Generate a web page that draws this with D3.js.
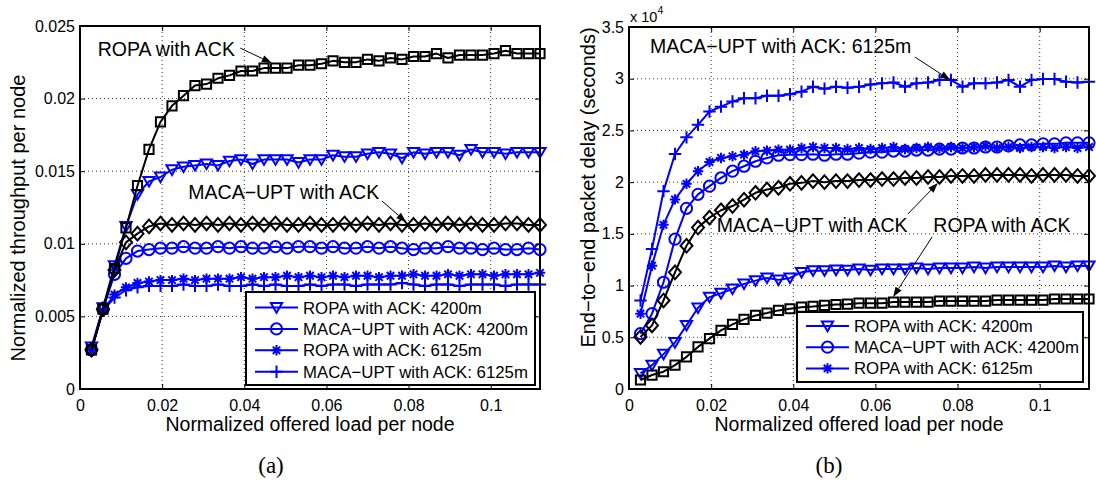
<!DOCTYPE html>
<html>
<head>
<meta charset="utf-8">
<script src="https://cdn.jsdelivr.net/npm/d3@7"></script>
<style>
  body { margin: 0; background: #fff; }
  svg text { font-family: "Liberation Sans", Arial, Helvetica, sans-serif; fill: #000; }
  svg text.caption { font-family: "Liberation Serif", "Times New Roman", serif; }
</style>
</head>
<body>
<svg id="fig" width="1096" height="481"></svg>
<script>
// Normalized offered load per node (x values shared by every curve)
const offeredLoad = [0.0028, 0.0056, 0.0084, 0.0112, 0.014, 0.0168, 0.0196, 0.0224, 0.0252, 0.028,
  0.0308, 0.0336, 0.0364, 0.0392, 0.042, 0.0448, 0.0476, 0.0504, 0.0532, 0.056,
  0.0588, 0.0616, 0.0644, 0.0672, 0.07, 0.0728, 0.0756, 0.0784, 0.0812, 0.084,
  0.0868, 0.0896, 0.0924, 0.0952, 0.098, 0.1008, 0.1036, 0.1064, 0.1092, 0.112];

const loadTicks = [0, 0.02, 0.04, 0.06, 0.08, 0.1];
const throughputTicks = [0, 0.005, 0.01, 0.015, 0.02, 0.025];
const delayTicks = [0, 0.5, 1, 1.5, 2, 2.5, 3, 3.5];

// (a) normalized throughput per node
const thrRopaAck = [0.0027, 0.0055, 0.0083, 0.0111, 0.0140, 0.0165, 0.0184, 0.0195, 0.0202, 0.0209,
  0.0210, 0.0214, 0.0216, 0.0219, 0.0219, 0.0221, 0.0221, 0.0221, 0.0223, 0.0223,
  0.0224, 0.0226, 0.0225, 0.0225, 0.0227, 0.0226, 0.0228, 0.0227, 0.0229, 0.0229,
  0.0231, 0.0228, 0.0230, 0.0230, 0.0230, 0.0231, 0.0233, 0.0231, 0.0231, 0.0231];
const thrMacaAck = [0.0027, 0.0055, 0.0082, 0.0101, 0.0107, 0.0112, 0.0114, 0.0113, 0.0114, 0.0113,
  0.0114, 0.0113, 0.0114, 0.0113, 0.0114, 0.0113, 0.0114, 0.0113, 0.0113, 0.0114,
  0.0113, 0.0113, 0.0114, 0.0113, 0.0114, 0.0113, 0.0114, 0.0113, 0.0113, 0.0114,
  0.0113, 0.0114, 0.0113, 0.0114, 0.0113, 0.0113, 0.0114, 0.0114, 0.0113, 0.0113];
const thrRopa4200 = [0.0029, 0.0056, 0.0085, 0.0112, 0.0134, 0.0143, 0.0146, 0.0151, 0.0153, 0.0154,
  0.0155, 0.0154, 0.0157, 0.0158, 0.0155, 0.0158, 0.0158, 0.0158, 0.0156, 0.0158,
  0.0158, 0.0161, 0.0160, 0.0160, 0.0162, 0.0163, 0.0162, 0.0159, 0.0163, 0.0162,
  0.0163, 0.0163, 0.0161, 0.0165, 0.0163, 0.0163, 0.0162, 0.0163, 0.0163, 0.0163];
const thrMaca4200 = [0.0027, 0.0055, 0.0079, 0.0090, 0.0095, 0.0096, 0.0097, 0.0097, 0.0098, 0.0097,
  0.0097, 0.0098, 0.0097, 0.0098, 0.0097, 0.0097, 0.0098, 0.0097, 0.0098, 0.0098,
  0.0097, 0.0098, 0.0097, 0.0097, 0.0098, 0.0097, 0.0098, 0.0097, 0.0096, 0.0097,
  0.0097, 0.0098, 0.0097, 0.0097, 0.0096, 0.0097, 0.0096, 0.0096, 0.0097, 0.0096];
const thrRopa6125 = [0.0027, 0.0054, 0.0065, 0.0070, 0.0073, 0.0074, 0.0075, 0.0075, 0.0076, 0.0075,
  0.0076, 0.0076, 0.0076, 0.0077, 0.0076, 0.0077, 0.0077, 0.0078, 0.0077, 0.0078,
  0.0077, 0.0078, 0.0077, 0.0078, 0.0078, 0.0077, 0.0078, 0.0078, 0.0079, 0.0078,
  0.0078, 0.0079, 0.0078, 0.0079, 0.0079, 0.0078, 0.0079, 0.0079, 0.0079, 0.0080];
const thrMaca6125 = [0.0027, 0.0054, 0.0063, 0.0068, 0.0070, 0.0071, 0.0071, 0.0071, 0.0072, 0.0071,
  0.0071, 0.0072, 0.0071, 0.0071, 0.0072, 0.0071, 0.0072, 0.0071, 0.0071, 0.0072,
  0.0071, 0.0072, 0.0072, 0.0071, 0.0072, 0.0072, 0.0072, 0.0073, 0.0072, 0.0071,
  0.0072, 0.0072, 0.0071, 0.0072, 0.0072, 0.0072, 0.0071, 0.0072, 0.0072, 0.0072];

// (b) end-to-end packet delay, in units of 10^4 seconds
const delRopaAck = [0.087, 0.135, 0.167, 0.231, 0.311, 0.407, 0.487, 0.567, 0.625, 0.673,
  0.711, 0.734, 0.760, 0.776, 0.791, 0.798, 0.808, 0.817, 0.82, 0.83,
  0.83, 0.83, 0.84, 0.84, 0.84, 0.84, 0.85, 0.85, 0.85, 0.85,
  0.85, 0.86, 0.86, 0.86, 0.86, 0.86, 0.87, 0.87, 0.87, 0.87];
const delMacaAck = [0.503, 0.615, 0.856, 1.128, 1.385, 1.561, 1.657, 1.728, 1.769, 1.83,
  1.897, 1.929, 1.945, 1.984, 1.993, 2.01, 2.00, 2.01, 2.01, 2.02,
  2.02, 2.03, 2.03, 2.04, 2.04, 2.05, 2.05, 2.06, 2.06, 2.06,
  2.07, 2.07, 2.07, 2.07, 2.06, 2.07, 2.07, 2.07, 2.06, 2.06];
const delRopa4200 = [0.151, 0.231, 0.337, 0.45, 0.615, 0.785, 0.888, 0.926, 0.968, 1.016,
  1.048, 1.074, 1.055, 1.074, 1.128, 1.144, 1.144, 1.151, 1.15, 1.16,
  1.15, 1.16, 1.16, 1.16, 1.17, 1.16, 1.17, 1.17, 1.17, 1.18,
  1.17, 1.18, 1.18, 1.18, 1.18, 1.18, 1.19, 1.18, 1.19, 1.19];
const delMaca4200 = [0.535, 0.728, 1.032, 1.449, 1.747, 1.882, 1.961, 2.041, 2.106, 2.154,
  2.202, 2.234, 2.26, 2.266, 2.266, 2.27, 2.26, 2.27, 2.27, 2.28,
  2.29, 2.29, 2.30, 2.30, 2.31, 2.31, 2.32, 2.32, 2.33, 2.33,
  2.34, 2.34, 2.35, 2.36, 2.36, 2.37, 2.37, 2.38, 2.38, 2.38];
const delRopa6125 = [0.728, 1.192, 1.587, 1.833, 1.984, 2.106, 2.195, 2.234, 2.25, 2.266,
  2.298, 2.305, 2.314, 2.314, 2.33, 2.34, 2.33, 2.33, 2.32, 2.33,
  2.32, 2.33, 2.34, 2.32, 2.33, 2.34, 2.33, 2.34, 2.33, 2.34,
  2.35, 2.33, 2.34, 2.33, 2.34, 2.34, 2.33, 2.34, 2.33, 2.34];
const delMaca6125 = [0.856, 1.353, 1.913, 2.272, 2.433, 2.554, 2.683, 2.73, 2.779, 2.811,
  2.811, 2.836, 2.836, 2.85, 2.875, 2.923, 2.904, 2.923, 2.913, 2.923,
  2.945, 2.955, 2.964, 2.923, 2.955, 2.964, 2.987, 2.987, 2.923, 2.955,
  2.955, 2.964, 2.987, 2.923, 2.987, 2.997, 2.997, 2.971, 2.964, 2.971];

const BLUE = "#0000ff";
const BLACK = "#000000";

// Marker outlines, centred on the data point
const markerPaths = {
  square:   "M-4.6,-4.6H4.6V4.6H-4.6Z",
  triangle: "M-5.6,-4.4L5.6,-4.4L0,5.2Z",
  circle:   "M5.6,0A5.6,5.6 0 1,1 -5.6,0A5.6,5.6 0 1,1 5.6,0Z",
  diamond:  "M0,-6.8L6,0L0,6.8L-6,0Z",
  asterisk: "M0,-5.2V5.2M-5.2,0H5.2M-3.7,-3.7L3.7,3.7M-3.7,3.7L3.7,-3.7",
  plus:     "M0,-6.2V6.2M-6.2,0H6.2"
};

const svg = d3.select("#fig");

function drawPanel(o) {
  const g = svg.append("g");
  const x = d3.scaleLinear().domain([0, 0.112]).range([o.left, o.right]);
  const y = d3.scaleLinear().domain([0, o.yTicks[o.yTicks.length - 1]]).range([o.bottom, o.top]);

  // dotted grid
  g.append("g").selectAll("line").data(loadTicks.filter(t => t > 0)).join("line")
    .attr("x1", d => x(d)).attr("x2", d => x(d))
    .attr("y1", o.bottom).attr("y2", o.top)
    .attr("stroke", "#333").attr("stroke-width", 1).attr("stroke-dasharray", "1,3");
  g.append("g").selectAll("line").data(o.yTicks.filter(t => t > 0)).join("line")
    .attr("x1", o.left).attr("x2", o.right)
    .attr("y1", d => y(d)).attr("y2", d => y(d))
    .attr("stroke", "#333").attr("stroke-width", 1).attr("stroke-dasharray", "1,3");

  // curves and markers
  const line = d3.line().x(d => x(d[0])).y(d => y(d[1]));
  o.series.forEach(s => {
    const pts = offeredLoad.map((v, i) => [v, s.values[i]]);
    const sg = g.append("g");
    sg.append("path").attr("d", line(pts))
      .attr("fill", "none").attr("stroke", s.color).attr("stroke-width", 2)
      .attr("stroke-linejoin", "round");
    sg.selectAll("path.mk").data(pts).join("path").attr("class", "mk")
      .attr("transform", d => `translate(${x(d[0])},${y(d[1])})`)
      .attr("d", markerPaths[s.marker])
      .attr("fill", "none").attr("stroke", s.color).attr("stroke-width", 2);
  });

  // axes with inward ticks on all four sides
  const fontAttr = sel => sel.attr("font-size", 16).attr("font-family", null);
  g.append("g").attr("transform", `translate(0,${o.bottom})`)
    .call(d3.axisBottom(x).tickValues(loadTicks).tickFormat(d3.format("~g"))
      .tickSizeInner(-5).tickSizeOuter(0).tickPadding(11))
    .call(a => a.select(".domain").remove()).call(fontAttr);
  g.append("g").attr("transform", `translate(0,${o.top})`)
    .call(d3.axisTop(x).tickValues(loadTicks).tickFormat("").tickSizeInner(-5).tickSizeOuter(0))
    .call(a => a.select(".domain").remove());
  g.append("g").attr("transform", `translate(${o.left},0)`)
    .call(d3.axisLeft(y).tickValues(o.yTicks).tickFormat(d3.format("~g"))
      .tickSizeInner(-5).tickSizeOuter(0).tickPadding(5))
    .call(a => a.select(".domain").remove()).call(fontAttr);
  g.append("g").attr("transform", `translate(${o.right},0)`)
    .call(d3.axisRight(y).tickValues(o.yTicks).tickFormat("").tickSizeInner(-5).tickSizeOuter(0))
    .call(a => a.select(".domain").remove());

  // axes box
  g.append("rect").attr("x", o.left).attr("y", o.top)
    .attr("width", o.right - o.left).attr("height", o.bottom - o.top)
    .attr("fill", "none").attr("stroke", "#000").attr("stroke-width", 2);

  // legend
  const lg = g.append("g");
  lg.append("rect").attr("x", o.legend.x0).attr("y", o.legend.y0)
    .attr("width", o.legend.x1 - o.legend.x0).attr("height", o.legend.y1 - o.legend.y0)
    .attr("fill", "#fff").attr("stroke", "#000").attr("stroke-width", 2);
  o.legend.items.forEach((s, i) => {
    const cy = o.legend.firstRow + i * o.legend.rowStep;
    const lx = o.legend.x0 + 9, rx = lx + 43;
    lg.append("line").attr("x1", lx).attr("x2", rx).attr("y1", cy).attr("y2", cy)
      .attr("stroke", s.color).attr("stroke-width", 2);
    lg.append("path").attr("d", markerPaths[s.marker])
      .attr("transform", `translate(${(lx + rx) / 2},${cy})`)
      .attr("fill", "none").attr("stroke", s.color).attr("stroke-width", 2);
    lg.append("text").attr("x", rx + 5).attr("y", cy).attr("dy", "0.36em")
      .attr("font-size", 16.8).text(s.name);
  });

  // annotations with arrows
  o.notes.forEach(n => {
    g.append("text").attr("x", x(n.tx)).attr("y", y(n.ty))
      .attr("font-size", 19.5).text(n.text);
    const x1 = x(n.ax0), y1 = y(n.ay0), x2 = x(n.ax1), y2 = y(n.ay1);
    const ang = Math.atan2(y2 - y1, x2 - x1);
    const L = 10, Wd = 3.6;
    const bx = x2 - L * Math.cos(ang), by = y2 - L * Math.sin(ang);
    g.append("line").attr("x1", x1).attr("y1", y1).attr("x2", bx).attr("y2", by)
      .attr("stroke", "#000").attr("stroke-width", 1);
    g.append("path")
      .attr("d", `M${x2},${y2}L${bx - Wd * Math.sin(ang)},${by + Wd * Math.cos(ang)}L${bx + Wd * Math.sin(ang)},${by - Wd * Math.cos(ang)}Z`)
      .attr("fill", "#000");
  });

  // axis titles
  g.append("text").attr("x", (o.left + o.right) / 2).attr("y", 431)
    .attr("text-anchor", "middle").attr("font-size", 19.5).text(o.xLabel);
  g.append("text").attr("transform", `translate(${o.yLabelX},${o.yLabelY}) rotate(-90)`)
    .attr("text-anchor", "middle").attr("font-size", 20).text(o.yLabel);

  // sub-figure caption
  g.append("text").attr("class", "caption").attr("x", o.captionX).attr("y", 473)
    .attr("text-anchor", "middle").attr("font-size", 23).text(o.caption);

  return { x, y, g };
}

drawPanel({
  left: 80, right: 540, top: 26, bottom: 389,
  yTicks: throughputTicks,
  series: [
    { values: thrRopa4200, color: BLUE, marker: "triangle" },
    { values: thrMaca4200, color: BLUE, marker: "circle" },
    { values: thrRopa6125, color: BLUE, marker: "asterisk" },
    { values: thrMaca6125, color: BLUE, marker: "plus" },
    { values: thrMacaAck, color: BLACK, marker: "diamond" },
    { values: thrRopaAck, color: BLACK, marker: "square" }
  ],
  legend: {
    x0: 246, x1: 535, y0: 292, y1: 385, firstRow: 307.5, rowStep: 21.4,
    items: [
      { name: "ROPA with ACK: 4200m", color: BLUE, marker: "triangle" },
      { name: "MACA\u2212UPT with ACK: 4200m", color: BLUE, marker: "circle" },
      { name: "ROPA with ACK: 6125m", color: BLUE, marker: "asterisk" },
      { name: "MACA\u2212UPT with ACK: 6125m", color: BLUE, marker: "plus" }
    ]
  },
  notes: [
    { text: "ROPA with ACK", tx: 0.0043, ty: 0.02293, ax0: 0.039, ay0: 0.02348, ax1: 0.0467, ay1: 0.02245 },
    { text: "MACA\u2212UPT with ACK", tx: 0.02637, ty: 0.01309, ax0: 0.0735, ay0: 0.01295, ax1: 0.0794, ay1: 0.0115 }
  ],
  xLabel: "Normalized offered load per node",
  yLabel: "Normalized throughput per node",
  yLabelX: 25, yLabelY: 218,
  caption: "(a)", captionX: 271
});

drawPanel({
  left: 629, right: 1089, top: 27, bottom: 389,
  yTicks: delayTicks,
  series: [
    { values: delRopa4200, color: BLUE, marker: "triangle" },
    { values: delMaca4200, color: BLUE, marker: "circle" },
    { values: delRopa6125, color: BLUE, marker: "asterisk" },
    { values: delMaca6125, color: BLUE, marker: "plus" },
    { values: delMacaAck, color: BLACK, marker: "diamond" },
    { values: delRopaAck, color: BLACK, marker: "square" }
  ],
  legend: {
    x0: 797, x1: 1083, y0: 312, y1: 382, firstRow: 326, rowStep: 21.2,
    items: [
      { name: "ROPA with ACK: 4200m", color: BLUE, marker: "triangle" },
      { name: "MACA\u2212UPT with ACK: 4200m", color: BLUE, marker: "circle" },
      { name: "ROPA with ACK: 6125m", color: BLUE, marker: "asterisk" }
    ]
  },
  notes: [
    { text: "MACA\u2212UPT with ACK: 6125m", tx: 0.0051, ty: 3.246, ax0: 0.0696, ay0: 3.21, ax1: 0.0782, ay1: 2.988 },
    { text: "MACA\u2212UPT with ACK", tx: 0.02135, ty: 1.521, ax0: 0.0679, ay0: 1.692, ax1: 0.0752, ay1: 1.992 },
    { text: "ROPA with ACK", tx: 0.0741, ty: 1.521, ax0: 0.0738, ay0: 1.47, ax1: 0.0643, ay1: 0.8895 }
  ],
  xLabel: "Normalized offered load per node",
  yLabel: "End\u2212to\u2212end packet delay (seconds)",
  yLabelX: 595, yLabelY: 187.5,
  caption: "(b)", captionX: 829
});

// exponent label above the delay axis
const expo = svg.append("text").attr("x", 630).attr("y", 22).attr("font-size", 14.5);
expo.append("tspan").text("x 10");
expo.append("tspan").attr("font-size", 10.5).attr("dy", -8).text("4");
</script>
</body>
</html>
